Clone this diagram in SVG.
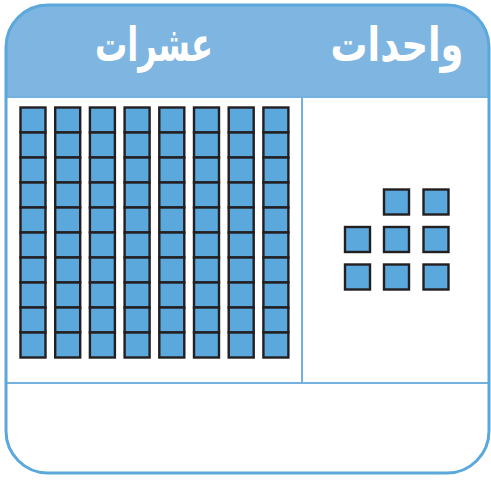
<svg xmlns="http://www.w3.org/2000/svg" width="491" height="480" viewBox="0 0 491 480">
<style>
.c{fill:#5ba8dc;stroke:#231f20;stroke-width:2.4}
.t{fill:#fff;font-family:"DejaVu Sans",sans-serif;font-size:48px;font-weight:bold;text-anchor:middle}
.ln{stroke:#74b0de;stroke-width:2;fill:none}
</style>
<defs>
<clipPath id="cp"><rect x="6" y="5" width="483" height="468" rx="42"/></clipPath>
<g id="rod">
<rect class="c" x="0" y="0" width="25" height="25"/><rect class="c" x="0" y="25" width="25" height="25"/>
<rect class="c" x="0" y="50" width="25" height="25"/><rect class="c" x="0" y="75" width="25" height="25"/>
<rect class="c" x="0" y="100" width="25" height="25"/><rect class="c" x="0" y="125" width="25" height="25"/>
<rect class="c" x="0" y="150" width="25" height="25"/><rect class="c" x="0" y="175" width="25" height="25"/>
<rect class="c" x="0" y="200" width="25" height="25"/><rect class="c" x="0" y="225" width="25" height="25"/>
</g>
</defs>
<g id="frame">
<rect x="6" y="5" width="483" height="468" rx="42" fill="#fff"/>
<rect x="0" y="0" width="491" height="97" fill="#7fb5e1" clip-path="url(#cp)"/>
<line class="ln" x1="6" y1="97" x2="489" y2="97"/>
<line class="ln" x1="302" y1="97" x2="302" y2="383"/>
<line class="ln" x1="6" y1="383" x2="489" y2="383"/>
<rect x="6" y="5" width="483" height="468" rx="42" fill="none" stroke="#5ba8dc" stroke-width="3"/>
</g>
<g id="labels">
<text class="t" x="154" y="61" textLength="118" lengthAdjust="spacingAndGlyphs">عشرات</text>
<text class="t" x="397" y="61" textLength="133" lengthAdjust="spacingAndGlyphs">واحدات</text>
</g>
<g id="tens">
<use href="#rod" x="20.5" y="107.5"/>
<use href="#rod" x="55.2" y="107.5"/>
<use href="#rod" x="89.9" y="107.5"/>
<use href="#rod" x="124.6" y="107.5"/>
<use href="#rod" x="159.3" y="107.5"/>
<use href="#rod" x="194" y="107.5"/>
<use href="#rod" x="228.7" y="107.5"/>
<use href="#rod" x="263.4" y="107.5"/>
</g>
<g id="units">
<rect class="c" x="384" y="189.5" width="25" height="25"/>
<rect class="c" x="423.5" y="189.5" width="25" height="25"/>
<rect class="c" x="345" y="227" width="25" height="25"/>
<rect class="c" x="384" y="227" width="25" height="25"/>
<rect class="c" x="423.5" y="227" width="25" height="25"/>
<rect class="c" x="345" y="264.5" width="25" height="25"/>
<rect class="c" x="384" y="264.5" width="25" height="25"/>
<rect class="c" x="423.5" y="264.5" width="25" height="25"/>
</g>
</svg>
